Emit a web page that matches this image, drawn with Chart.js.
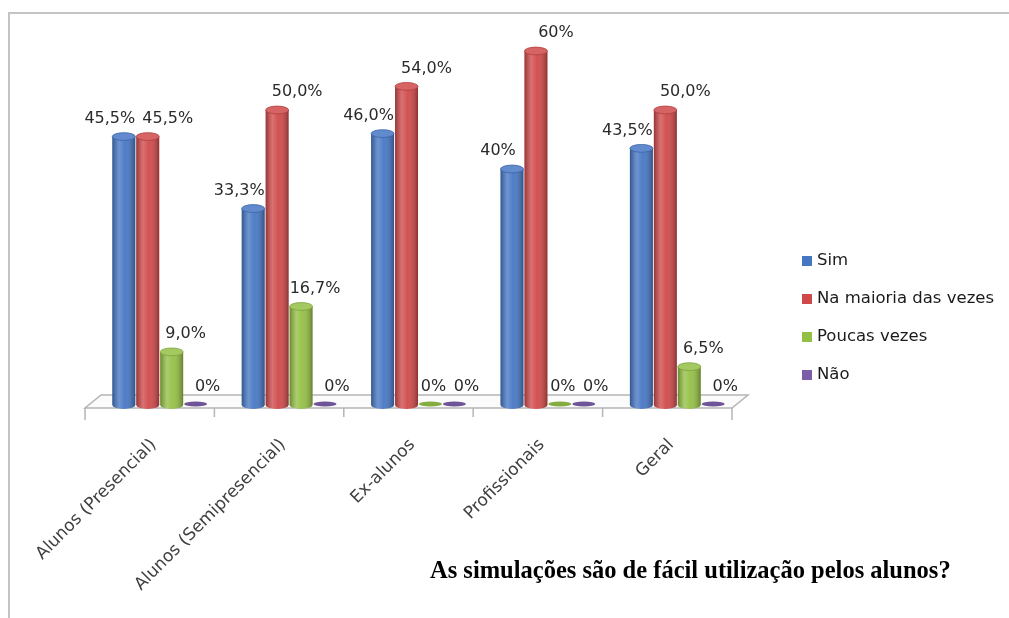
<!DOCTYPE html>
<html>
<head>
<meta charset="utf-8">
<script src="https://cdn.jsdelivr.net/npm/chart.js@4.4.0/dist/chart.umd.min.js"></script>
<style>
  html, body { margin: 0; padding: 0; background: #fff; }
  #wrap { position: relative; width: 1009px; height: 618px; }
</style>
</head>
<body>
<div id="wrap"><canvas id="simChart"></canvas></div>
<script>
// ===== data =====
const categories = ["Alunos (Presencial)", "Alunos (Semipresencial)", "Ex-alunos", "Profissionais", "Geral"];
const seriesNames = ["Sim", "Na maioria das vezes", "Poucas vezes", "Não"];

const sim = [45.5, 33.3, 46.0, 40, 43.5];
const maioria = [45.5, 50.0, 54.0, 60, 50.0];
const poucas = [9.0, 16.7, 0, 0, 6.5];
const nao = [0, 0, 0, 0, 0];

const simLabels = ["45,5%", "33,3%", "46,0%", "40%", "43,5%"];
const maioriaLabels = ["45,5%", "50,0%", "54,0%", "60%", "50,0%"];
const poucasLabels = ["9,0%", "16,7%", "0%", "0%", "6,5%"];
const naoLabels = ["0%", "0%", "0%", "0%", "0%"];

const chartTitle = "As simulações são de fácil utilização pelos alunos?";

// ===== style =====
const colors = ["#4677c4", "#d0494a", "#94bf45", "#7b5ea8"];
const labelShift = [-14, 20, 14, 12];
const zeroShift = [0, 0, 3, 12];
const allLabels = [simLabels, maioriaLabels, poucasLabels, naoLabels];

function shade(hex, amt) {
  const n = parseInt(hex.slice(1), 16);
  let r = (n >> 16) & 255, g = (n >> 8) & 255, b = n & 255;
  const f = (c) => Math.max(0, Math.min(255, Math.round(amt > 0 ? c + (255 - c) * amt : c * (1 + amt))));
  return "rgb(" + f(r) + "," + f(g) + "," + f(b) + ")";
}

// frame, floor, cylinders, labels, legend, title
const decor = {
  id: "decor",
  beforeDraw(chart) {
    const ctx = chart.ctx;
    ctx.save();
    ctx.strokeStyle = "#c4c4c4";
    ctx.lineWidth = 2;
    ctx.beginPath();
    ctx.moveTo(9, 618);
    ctx.lineTo(9, 13);
    ctx.lineTo(1009, 13);
    ctx.stroke();
    ctx.restore();
  },
  beforeDatasetsDraw(chart) {
    const ctx = chart.ctx;
    const a = chart.chartArea;
    const x0 = a.left - 10, x1 = a.right - 10, yF = a.bottom + 3;
    const dx = 16, dy = 13;
    ctx.save();
    ctx.fillStyle = "#fbfbfb";
    ctx.strokeStyle = "#b5b5b5";
    ctx.lineWidth = 1.5;
    ctx.beginPath();
    ctx.moveTo(x0, yF);
    ctx.lineTo(x1, yF);
    ctx.lineTo(x1 + dx, yF - dy);
    ctx.lineTo(x0 + dx, yF - dy);
    ctx.closePath();
    ctx.fill();
    ctx.stroke();
    const n = categories.length;
    for (let k = 0; k <= n; k++) {
      const x = x0 + k * (x1 - x0) / n;
      ctx.beginPath();
      ctx.moveTo(x, yF);
      ctx.lineTo(x, yF + (k === 0 || k === n ? 12 : 9));
      ctx.stroke();
    }
    ctx.restore();
  },
  afterDatasetsDraw(chart) {
    const ctx = chart.ctx;
    ctx.save();
    chart.data.datasets.forEach((ds, i) => {
      const meta = chart.getDatasetMeta(i);
      const base = colors[i];
      meta.data.forEach((el, j) => {
        const w = el.width, x = el.x, left = x - w / 2;
        const ry = w * 0.17;
        const v = ds.data[j];
        let shift = labelShift[i];
        if (v > 0) {
          const grad = ctx.createLinearGradient(left, 0, left + w, 0);
          grad.addColorStop(0, "rgba(0,0,0,0.28)");
          grad.addColorStop(0.3, "rgba(255,255,255,0.22)");
          grad.addColorStop(0.55, "rgba(255,255,255,0.05)");
          grad.addColorStop(1, "rgba(0,0,0,0.32)");
          // bottom curve
          ctx.fillStyle = base;
          ctx.beginPath();
          ctx.ellipse(x, el.base, w / 2, ry, 0, 0, Math.PI);
          ctx.fill();
          ctx.fillStyle = grad;
          ctx.fill();
          ctx.fillRect(left, el.y, w, el.base - el.y);
          // top cap
          ctx.fillStyle = shade(base, 0.15);
          ctx.beginPath();
          ctx.ellipse(x, el.y, w / 2, ry, 0, 0, Math.PI * 2);
          ctx.fill();
          ctx.strokeStyle = shade(base, -0.15);
          ctx.lineWidth = 0.8;
          ctx.stroke();
        } else {
          shift = zeroShift[i];
          ctx.fillStyle = shade(base, -0.1);
          ctx.beginPath();
          ctx.ellipse(x, el.base - 1, w / 2, 2.6, 0, 0, Math.PI * 2);
          ctx.fill();
        }
        // value label
        ctx.fillStyle = "#2a2a2a";
        ctx.font = "16px 'DejaVu Sans'";
        ctx.textAlign = "center";
        ctx.textBaseline = "middle";
        ctx.fillText(allLabels[i][j], x + shift, el.y - 18);
      });
    });
    ctx.restore();
  },
  afterDraw(chart) {
    const ctx = chart.ctx;
    ctx.save();
    // legend
    ctx.font = "16.5px 'DejaVu Sans'";
    ctx.textBaseline = "middle";
    ctx.textAlign = "left";
    seriesNames.forEach((name, i) => {
      const y = 261 + i * 38;
      ctx.fillStyle = colors[i];
      ctx.fillRect(802, y - 5, 10, 10);
      ctx.fillStyle = "#1a1a1a";
      ctx.fillText(name, 817, y);
    });
    // title
    ctx.font = "bold 24.5px 'Liberation Serif'";
    ctx.textBaseline = "alphabetic";
    ctx.fillStyle = "#000";
    ctx.fillText(chartTitle, 430, 578);
    ctx.restore();
  }
};

const ctx = document.getElementById("simChart").getContext("2d");

new Chart(ctx, {
  type: "bar",
  data: {
    labels: categories,
    datasets: [
      { label: seriesNames[0], data: sim, backgroundColor: colors[0] },
      { label: seriesNames[1], data: maioria, backgroundColor: colors[1] },
      { label: seriesNames[2], data: poucas, backgroundColor: colors[2] },
      { label: seriesNames[3], data: nao, backgroundColor: colors[3] },
    ],
  },
  options: {
    responsive: true,
    maintainAspectRatio: false,
    animation: false,
    categoryPercentage: 0.74,
    barPercentage: 0.96,
    layout: { padding: { left: 95, right: 267, top: 51, bottom: 0 } },
    scales: {
      x: {
        grid: { display: false, drawTicks: false },
        border: { display: false },
        afterFit: (scale) => { scale.height = 213; },
        ticks: {
          minRotation: 45,
          maxRotation: 45,
          padding: 30,
          labelOffset: -6,
          color: "#404040",
          font: { family: "DejaVu Sans", size: 17 },
        },
      },
      y: {
        display: false,
        min: 0,
        max: 60,
      },
    },
    plugins: {
      legend: { display: false },
      title: { display: false },
      tooltip: { enabled: false },
    },
  },
  plugins: [decor],
});
</script>
</body>
</html>
